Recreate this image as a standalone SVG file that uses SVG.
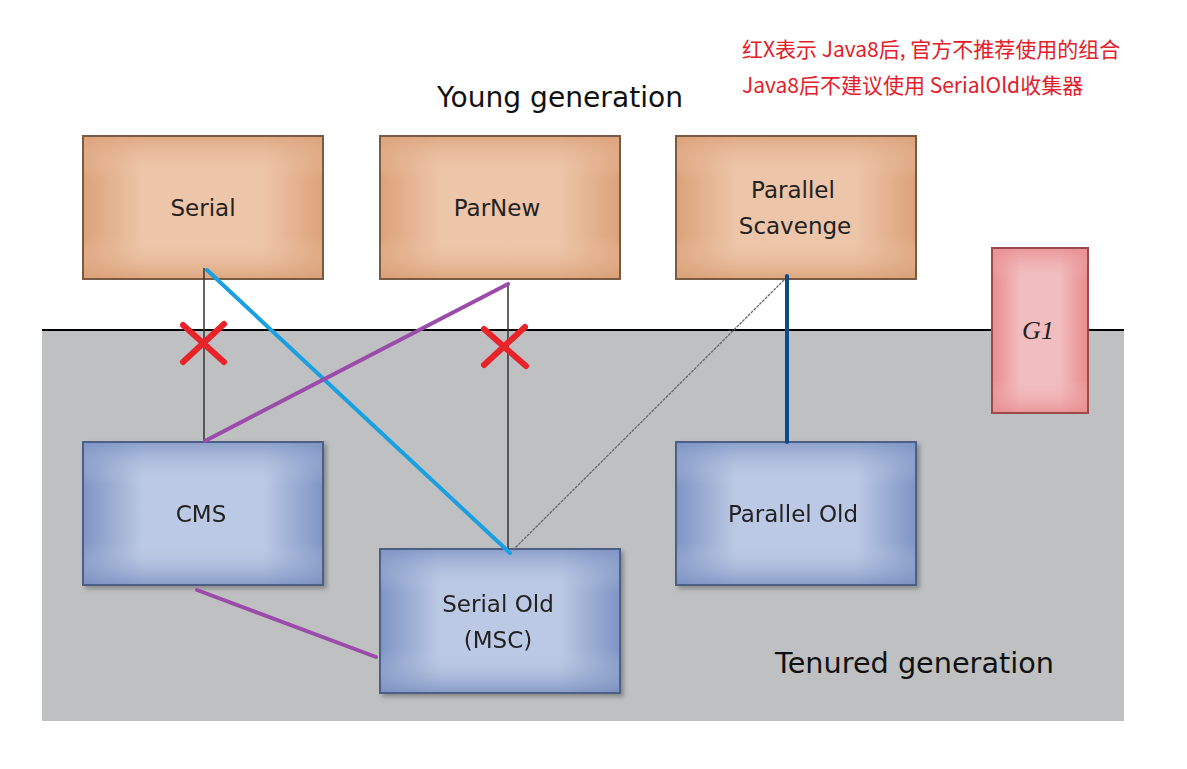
<svg xmlns="http://www.w3.org/2000/svg" width="1187" height="769" viewBox="0 0 1187 769">
<defs>
<linearGradient id="oh" x1="0" y1="0" x2="1" y2="0"><stop offset="0" stop-color="#DCA27A"/><stop offset="0.25" stop-color="#EDC5A8"/><stop offset="0.75" stop-color="#EDC5A8"/><stop offset="1" stop-color="#DCA27A"/></linearGradient>
<linearGradient id="ov" x1="0" y1="0" x2="0" y2="1"><stop offset="0" stop-color="#DCA27A" stop-opacity="0.8"/><stop offset="0.3" stop-color="#F0CDB2" stop-opacity="0"/><stop offset="0.7" stop-color="#F0CDB2" stop-opacity="0"/><stop offset="1" stop-color="#D99E74" stop-opacity="0.8"/></linearGradient>
<linearGradient id="bh" x1="0" y1="0" x2="1" y2="0"><stop offset="0" stop-color="#7E94C4"/><stop offset="0.25" stop-color="#BCC9E4"/><stop offset="0.75" stop-color="#BCC9E4"/><stop offset="1" stop-color="#7E94C4"/></linearGradient>
<linearGradient id="bv" x1="0" y1="0" x2="0" y2="1"><stop offset="0" stop-color="#7E94C4" stop-opacity="0.8"/><stop offset="0.3" stop-color="#C5D1E8" stop-opacity="0"/><stop offset="0.7" stop-color="#C5D1E8" stop-opacity="0"/><stop offset="1" stop-color="#7A90C0" stop-opacity="0.8"/></linearGradient>
<linearGradient id="gh" x1="0" y1="0" x2="1" y2="0"><stop offset="0" stop-color="#E88C8E"/><stop offset="0.3" stop-color="#F2BDBF"/><stop offset="0.7" stop-color="#F2BDBF"/><stop offset="1" stop-color="#E88C8E"/></linearGradient>
<linearGradient id="gv" x1="0" y1="0" x2="0" y2="1"><stop offset="0" stop-color="#E88C8E" stop-opacity="0.8"/><stop offset="0.2" stop-color="#F2BDBF" stop-opacity="0"/><stop offset="0.8" stop-color="#F2BDBF" stop-opacity="0"/><stop offset="1" stop-color="#E88C8E" stop-opacity="0.8"/></linearGradient>
<filter id="sh" x="-10%" y="-10%" width="125%" height="125%"><feDropShadow dx="3" dy="3" stdDeviation="2" flood-color="#555" flood-opacity="0.5"/></filter>
</defs>
<style>
.lbl{font-family:"DejaVu Sans","Noto Sans",sans-serif;font-size:23px;fill:#222;text-anchor:middle}
.ttl{font-family:"DejaVu Sans","Noto Sans",sans-serif;font-size:28px;fill:#111}
.note{font-family:"Noto Sans CJK SC","Noto Sans",sans-serif;font-size:21px;fill:#E3202A}
.ob{stroke:#7A5A42;stroke-width:2}
.bb{stroke:#4E5F85;stroke-width:2}
.thin{stroke:#333;stroke-width:1.5;fill:none}
.x{stroke:#E8232A;stroke-width:6;stroke-linecap:round}
</style>
<rect width="1187" height="769" fill="#fff"/>
<rect x="42" y="330" width="1082" height="391" fill="#BFC0C2"/>
<line x1="42" y1="330" x2="1124" y2="330" stroke="#000" stroke-width="2"/>
<text class="ttl" x="437" y="107" textLength="246" lengthAdjust="spacingAndGlyphs">Young generation</text>
<text class="ttl" x="775" y="673" textLength="279" lengthAdjust="spacingAndGlyphs">Tenured generation</text>
<text class="note" x="742" y="57">红X表示 Java8后, 官方不推荐使用的组合</text>
<text class="note" x="742" y="93">Java8后不建议使用 SerialOld收集器</text>

<g id="serial"><rect x="83" y="136" width="240" height="143" fill="url(#oh)"/><rect x="83" y="136" width="240" height="143" fill="url(#ov)" class="ob"/><text class="lbl" x="203" y="216">Serial</text></g>
<g id="parnew"><rect x="380" y="136" width="240" height="143" fill="url(#oh)"/><rect x="380" y="136" width="240" height="143" fill="url(#ov)" class="ob"/><text class="lbl" x="497" y="216">ParNew</text></g>
<g id="parallel-scavenge"><rect x="676" y="136" width="240" height="143" fill="url(#oh)"/><rect x="676" y="136" width="240" height="143" fill="url(#ov)" class="ob"/><text class="lbl" x="793" y="198">Parallel</text><text class="lbl" x="795" y="234">Scavenge</text></g>
<g id="g1"><rect x="992" y="248" width="96" height="165" fill="url(#gh)"/><rect x="992" y="248" width="96" height="165" fill="url(#gv)" stroke="#9A4A4C" stroke-width="2"/><text x="1038" y="339" font-family="Liberation Serif,serif" font-style="italic" font-size="26" fill="#222" text-anchor="middle">G1</text></g>
<g id="cms" filter="url(#sh)"><rect x="83" y="442" width="240" height="143" fill="url(#bh)"/><rect x="83" y="442" width="240" height="143" fill="url(#bv)" class="bb"/><text class="lbl" x="201" y="522">CMS</text></g>
<g id="parallel-old" filter="url(#sh)"><rect x="676" y="442" width="240" height="143" fill="url(#bh)"/><rect x="676" y="442" width="240" height="143" fill="url(#bv)" class="bb"/><text class="lbl" x="793" y="522">Parallel Old</text></g>
<g id="serial-old" filter="url(#sh)"><rect x="380" y="549" width="240" height="144" fill="url(#bh)"/><rect x="380" y="549" width="240" height="144" fill="url(#bv)" class="bb"/><text class="lbl" x="498" y="612">Serial Old</text><text class="lbl" x="498" y="648">(MSC)</text></g>

<g id="connectors">
<line class="thin" x1="204" y1="268" x2="204" y2="442"/>
<line class="thin" x1="508" y1="283" x2="508" y2="549"/>
<line x1="787" y1="277" x2="512" y2="551" stroke="#666" stroke-width="1.3" stroke-dasharray="3 1"/>
<line x1="207" y1="270" x2="510" y2="553" stroke="#1AA0E0" stroke-width="4" stroke-linecap="round"/>
<line x1="508" y1="284" x2="205" y2="441" stroke="#9B4BAA" stroke-width="4" stroke-linecap="round"/>
<line x1="787" y1="276" x2="787" y2="442" stroke="#0D4A8A" stroke-width="4" stroke-linecap="round"/>
<line x1="197" y1="590" x2="376" y2="657" stroke="#9B4BAA" stroke-width="4" stroke-linecap="round"/>
</g>
<g id="marks">
<line class="x" x1="183" y1="325" x2="224" y2="362"/><line class="x" x1="224" y1="324" x2="183" y2="362"/>
<line class="x" x1="484" y1="329" x2="526" y2="366"/><line class="x" x1="525" y1="327" x2="484" y2="365"/>
</g>
</svg>
